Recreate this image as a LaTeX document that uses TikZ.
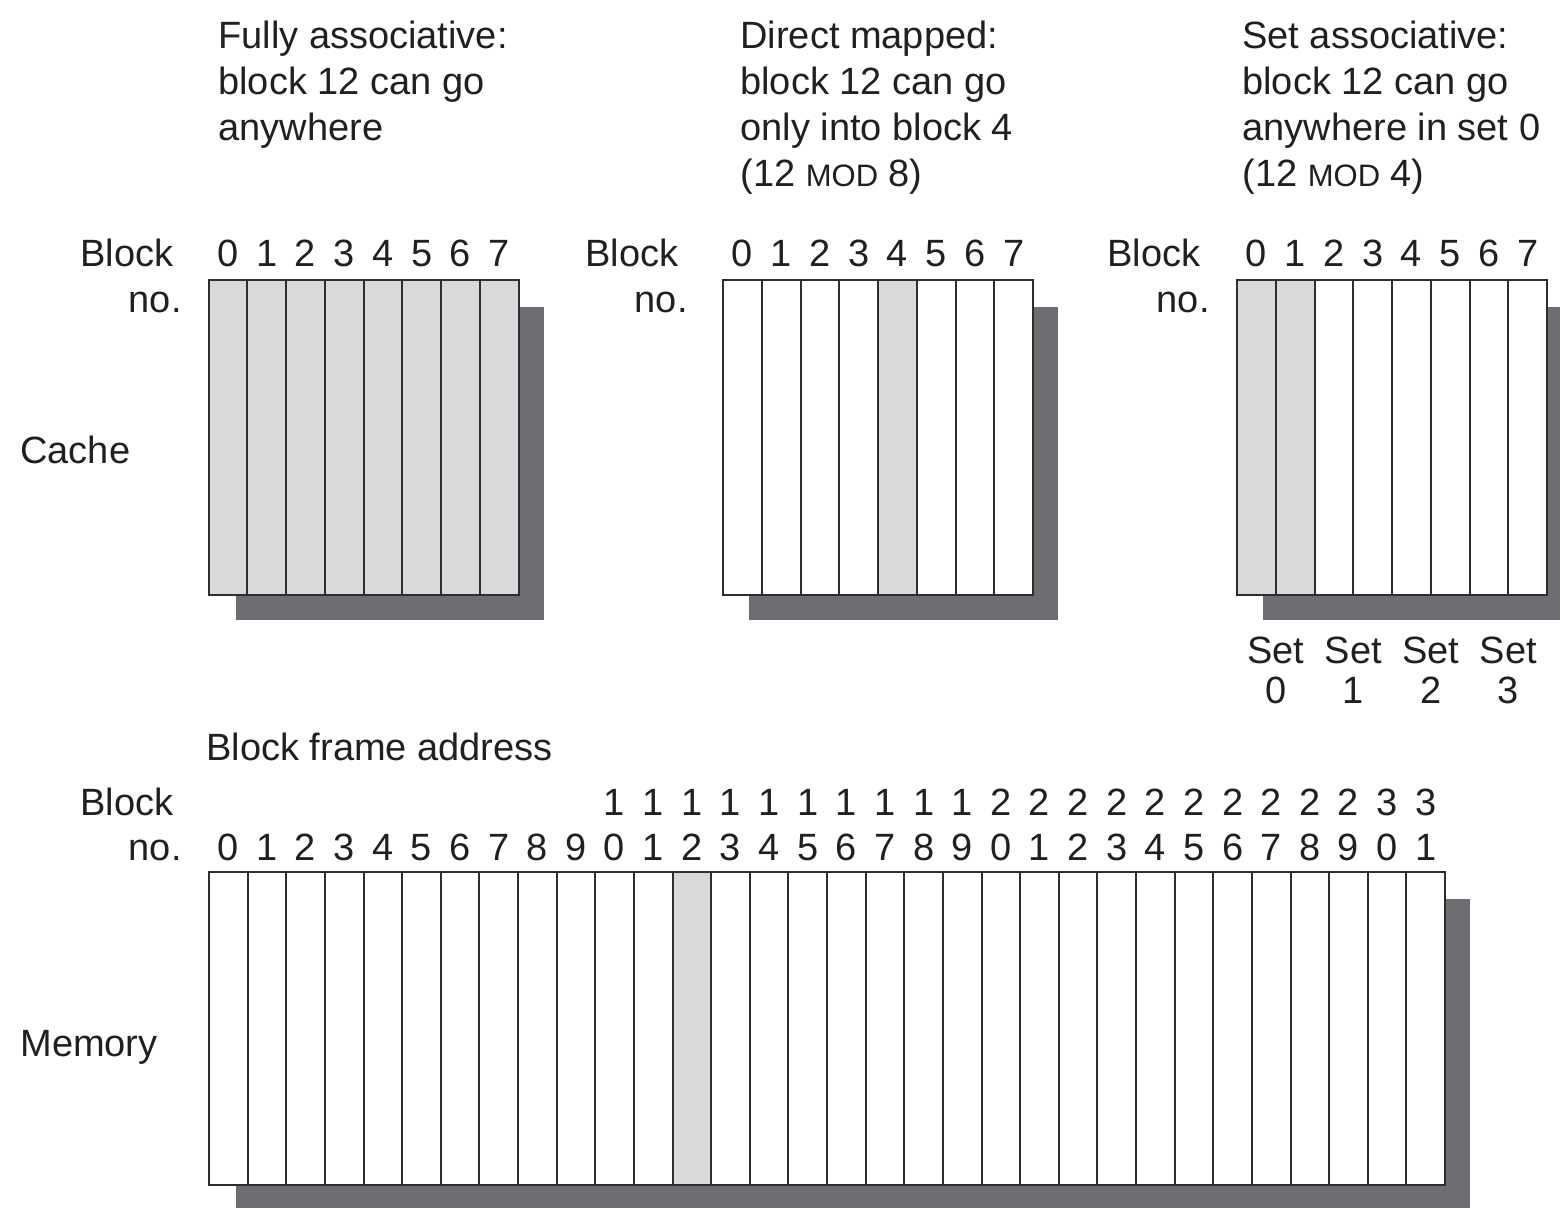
\documentclass[tikz,border=0pt]{standalone}
\usepackage{fontspec}
\setmainfont{Liberation Sans}
\definecolor{txt}{HTML}{231F20}
\definecolor{cellfill}{HTML}{D9D9DB}
\definecolor{shadowc}{HTML}{6D6E71}
\definecolor{edge}{HTML}{2E2E2E}
\newcommand{\smod}{{\fontsize{15.5pt}{18pt}\selectfont MOD}}
\begin{document}
\begin{tikzpicture}[x=0.5pt,y=-0.5pt,
  lbl/.style={inner sep=0pt, text=txt, font=\fontsize{19pt}{23pt}\selectfont},
  cell/.style={draw=edge, line width=1pt, fill=white},
  hcell/.style={cell, fill=cellfill},
  shadowbox/.style={fill=shadowc}]
\useasboundingbox (0,0) rectangle (1560,1208);
\clip (0,0) rectangle (1560,1208);

% ---- titles ----
\node[lbl,anchor=base west] (fa1) at (218,49) {Fully associative:};
\node[lbl,anchor=base west] (fa2) at (218,95) {block 12 can go};
\node[lbl,anchor=base west] (fa3) at (218,141) {anywhere};

\node[lbl,anchor=base west] (dm1) at (740,49) {Direct mapped:};
\node[lbl,anchor=base west] (dm2) at (740,95) {block 12 can go};
\node[lbl,anchor=base west] (dm3) at (740,141) {only into block 4};
\node[lbl,anchor=base west] (dm4) at (740,187) {(12 \smod\ 8)};

\node[lbl,anchor=base west] (sa1) at (1242,49) {Set associative:};
\node[lbl,anchor=base west] (sa2) at (1242,95) {block 12 can go};
\node[lbl,anchor=base west] (sa3) at (1242,141) {anywhere in set 0};
\node[lbl,anchor=base west] (sa4) at (1242,187) {(12 \smod\ 4)};

% ---- side labels ----
\node[lbl,anchor=base west] (cachelbl) at (20,464) {Cache};
\node[lbl,anchor=base west] (memlbl) at (20,1056) {Memory};
\node[lbl,anchor=base west] (bfa) at (206,761) {Block frame address};

\node[lbl,anchor=base west] (b1) at (80,267) {Block};
\node[lbl,anchor=base east] (n1) at (182,313) {no.};
\node[lbl,anchor=base west] (b2) at (585,267) {Block};
\node[lbl,anchor=base east] (n2) at (688,313) {no.};
\node[lbl,anchor=base west] (b3) at (1107,267) {Block};
\node[lbl,anchor=base east] (n3) at (1210,313) {no.};
\node[lbl,anchor=base west] (bm) at (80,815) {Block};
\node[lbl,anchor=base east] (nm) at (182,860) {no.};

% ---- shadows ----
\fill[shadowbox] (236,307) rectangle (544,620);
\fill[shadowbox] (749,307) rectangle (1058,620);
\fill[shadowbox] (1263,307) rectangle (1572,620);
\fill[shadowbox] (236,899) rectangle (1470,1212);

% ---- cache 1: fully associative ----
\foreach \i in {0,...,7} {
  \draw[hcell] ({208.5+38.75*\i},280) rectangle ({208.5+38.75*(\i+1)},595);
  \node[lbl,anchor=base] (ca\i) at ({208.5+38.75*(\i+0.5)},267) {\i};
}
% ---- cache 2: direct mapped ----
\foreach \i in {0,...,7} {
  \ifnum\i=4
    \draw[hcell] ({723+38.75*\i},280) rectangle ({723+38.75*(\i+1)},595);
  \else
    \draw[cell] ({723+38.75*\i},280) rectangle ({723+38.75*(\i+1)},595);
  \fi
  \node[lbl,anchor=base] (cb\i) at ({723+38.75*(\i+0.5)},267) {\i};
}
% ---- cache 3: set associative ----
\foreach \i in {0,...,7} {
  \ifnum\i<2
    \draw[hcell] ({1237+38.75*\i},280) rectangle ({1237+38.75*(\i+1)},595);
  \else
    \draw[cell] ({1237+38.75*\i},280) rectangle ({1237+38.75*(\i+1)},595);
  \fi
  \node[lbl,anchor=base] (cc\i) at ({1237+38.75*(\i+0.5)},267) {\i};
}
\foreach \k in {0,...,3} {
  \node[lbl,anchor=base] (set\k) at ({1237+77.5*\k+38.75},664) {Set};
  \node[lbl,anchor=base] (setn\k) at ({1237+77.5*\k+38.75},704) {\k};
}

% ---- memory ----
\foreach \i in {0,...,31} {
  \ifnum\i=12
    \draw[hcell] ({209+38.625*\i},872) rectangle ({209+38.625*(\i+1)},1185);
  \else
    \draw[cell] ({209+38.625*\i},872) rectangle ({209+38.625*(\i+1)},1185);
  \fi
  \pgfmathtruncatemacro{\ones}{mod(\i,10)}
  \pgfmathtruncatemacro{\tens}{div(\i,10)}
  \node[lbl,anchor=base] (mo\i) at ({209+38.625*(\i+0.5)},860) {\ones};
  \ifnum\i>9
    \node[lbl,anchor=base] (mt\i) at ({209+38.625*(\i+0.5)},815) {\tens};
  \fi
}
\end{tikzpicture}
\end{document}
